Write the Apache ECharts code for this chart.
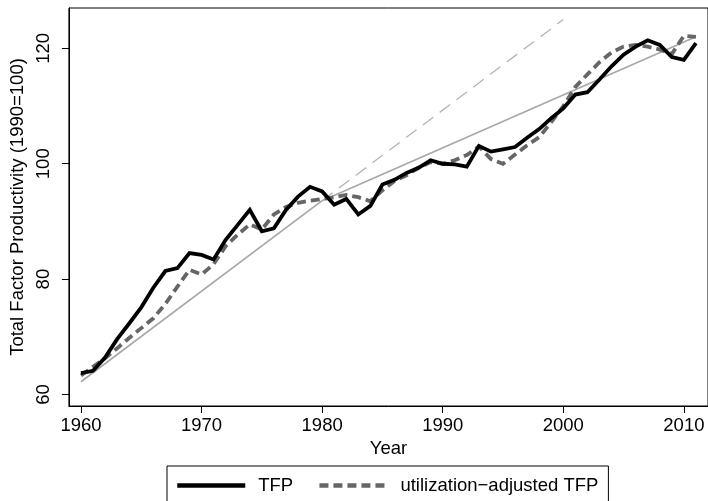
<!DOCTYPE html>
<html>
<head>
<meta charset="utf-8">
<script src="https://cdn.jsdelivr.net/npm/echarts@6/dist/echarts.min.js"></script>
<style>html,body{margin:0;padding:0;background:#fff;}#c{width:708px;height:501px;}</style>
</head>
<body>
<div id="c"></div>
<script>
var years = [];
for (var y = 1960; y <= 2011; y++) years.push(y);
var tfp = [63.7,64.1,66.4,69.6,72.3,75.1,78.5,81.4,81.9,84.5,
           84.2,83.4,86.8,89.4,92.0,88.3,88.8,92.0,94.3,96.0,
           95.2,92.9,93.9,91.2,92.7,96.4,97.2,98.4,99.3,100.6,
           100.0,99.9,99.5,103.1,102.1,102.5,102.9,104.5,106.0,107.9,
           109.6,112.0,112.4,114.6,116.9,118.9,120.3,121.4,120.6,118.5,
           118.0,120.9];
var utilTfp = [63.3,64.8,66.3,68.0,69.8,71.5,73.2,75.7,78.7,81.6,
               80.8,82.6,85.7,87.7,89.5,88.6,91.2,92.5,93.2,93.6,
               93.9,94.2,94.6,94.2,93.5,95.4,97.0,98.0,99.3,100.3,
               100.0,100.6,101.5,103.0,100.8,100.0,101.6,103.2,104.6,107.2,
               110.0,113.3,115.5,117.6,119.3,120.3,120.6,120.3,119.8,119.0,
               122.2,122.0];
var trendEarly = [[1960, 62.2], [1980, 93.6]];
var trendEarlyExt = [[1980, 93.6], [2000, 125.0]];
var trendLate = [[1980, 93.6], [2011, 122.0]];
var xTicks = [1960, 1970, 1980, 1990, 2000, 2010];
var yTicks = [60, 80, 100, 120];

function pairs(xs, vs) { return xs.map(function (x, i) { return [x, vs[i]]; }); }

var font = 'Liberation Sans, Arial, sans-serif';
var fs = 18.5;
var chart = echarts.init(document.getElementById('c'));
chart.setOption({
  animation: false,
  backgroundColor: '#fff',
  textStyle: { fontFamily: font },
  grid: { left: 64, top: 8, width: 648, height: 398, show: true, borderColor: '#000', borderWidth: 1, backgroundColor: '#fff' },
  legend: {
    data: ['TFP', 'utilization\u2212adjusted TFP'],
    left: 167, top: 466,
    padding: [10, 10, 20, 8],
    itemWidth: 68, itemHeight: 14, itemGap: 24,
    borderColor: '#000', borderWidth: 1,
    itemStyle: { opacity: 0 },
    lineStyle: { width: 4.5 },
    textStyle: { fontFamily: font, fontSize: fs, color: '#000', padding: [0, 0, 0, 8] }
  },
  xAxis: {
    type: 'value', min: 1959, max: 2012,
    name: 'Year', nameLocation: 'middle', nameGap: 33,
    nameTextStyle: { fontFamily: font, fontSize: fs, color: '#000' },
    axisLine: { show: true, lineStyle: { color: '#000', width: 1 } },
    axisTick: { show: true, length: 7, customValues: xTicks, lineStyle: { color: '#000' } },
    axisLabel: { customValues: xTicks, margin: 10, fontFamily: font, fontSize: fs, color: '#000',
                 formatter: function (v) { return String(v); } },
    splitLine: { show: false }
  },
  yAxis: {
    type: 'value', min: 58, max: 127,
    name: 'Total Factor Productivity (1990=100)', nameLocation: 'middle', nameGap: 34,
    nameTextStyle: { fontFamily: font, fontSize: fs, color: '#000' },
    axisLine: { show: true, lineStyle: { color: '#000', width: 1 } },
    axisTick: { show: true, length: 7, customValues: yTicks, lineStyle: { color: '#000' } },
    axisLabel: { customValues: yTicks, rotate: 90, margin: 15, fontFamily: font, fontSize: fs, color: '#000' },
    splitLine: { show: false }
  },
  series: [
    { name: 'trendEarly', type: 'line', data: trendEarly, showSymbol: false, symbol: 'none', silent: true,
      lineStyle: { color: '#a8a8a8', width: 1.7 }, z: 1 },
    { name: 'trendEarlyExt', type: 'line', data: trendEarlyExt, showSymbol: false, symbol: 'none', silent: true,
      lineStyle: { color: '#b4b4b4', width: 1.3, type: [13, 8] }, z: 1 },
    { name: 'trendLate', type: 'line', data: trendLate, showSymbol: false, symbol: 'none', silent: true,
      lineStyle: { color: '#a8a8a8', width: 1.7 }, z: 1 },
    { name: 'utilization\u2212adjusted TFP', type: 'line', data: pairs(years, utilTfp), showSymbol: false, symbol: 'none',
      lineStyle: { color: '#666666', width: 3.8, type: [9, 5], cap: 'butt', join: 'miter' }, itemStyle: { color: '#666666' }, z: 2 },
    { name: 'TFP', type: 'line', data: pairs(years, tfp), showSymbol: false, symbol: 'none',
      lineStyle: { color: '#000000', width: 3.8, join: 'miter' }, itemStyle: { color: '#000000' }, z: 3 }
  ]
});
</script>
</body>
</html>
